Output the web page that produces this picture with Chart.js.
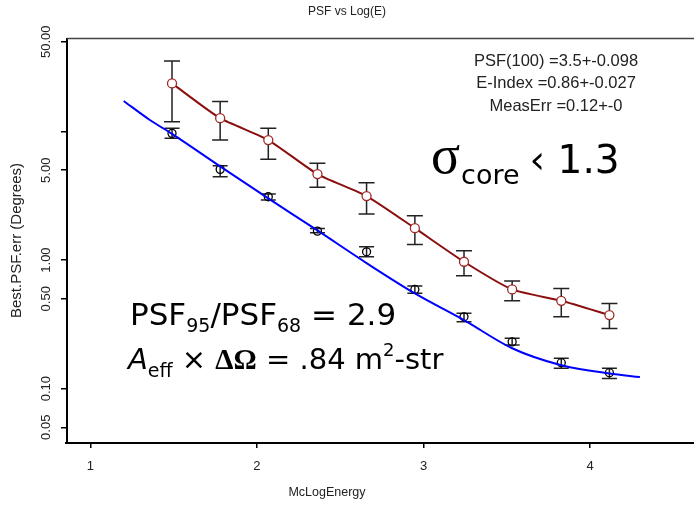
<!DOCTYPE html>
<html><head><meta charset="utf-8">
<script src="https://cdn.jsdelivr.net/npm/chart.js@4/dist/chart.umd.min.js"></script>
<style>html,body{margin:0;padding:0;background:#fff;overflow:hidden}#wrap{width:694px;height:505px}</style>
</head><body><div id="wrap"><canvas id="c" width="694" height="505"></canvas></div>
<script>
// ---- data ----
const energyX  = [1.49, 1.779, 2.068, 2.363, 2.658, 2.948, 3.243, 3.532, 3.827, 4.116];
const psf95    = [23.7, 12.7, 8.59, 4.67, 3.15, 1.77, 0.97, 0.591, 0.482, 0.373];
const psf95Lo  = [11.9, 8.59, 6.08, 3.68, 2.28, 1.32, 0.755, 0.482, 0.362, 0.294];
const psf95Hi  = [35.4, 17.1, 10.6, 5.66, 4.0, 2.21, 1.18, 0.687, 0.602, 0.46];
const psf68    = [9.68, 5.08, 3.11, 1.68, 1.16, 0.591, 0.362, 0.231, 0.159, 0.133];
const psf68Lo  = [8.85, 4.45, 2.93, 1.63, 1.06, 0.551, 0.331, 0.218, 0.144, 0.12];
const psf68Hi  = [10.6, 5.42, 3.26, 1.76, 1.27, 0.628, 0.385, 0.246, 0.172, 0.144];
const fitX     = [1.2, 1.357, 1.49, 1.779, 2.068, 2.363, 2.658, 2.948, 3.243, 3.532, 3.827, 4.116, 4.299];
const fitY     = [17.3, 12.3, 9.6, 5.36, 3.02, 1.70, 0.947, 0.55, 0.341, 0.206, 0.152, 0.131, 0.123];
const xTickValues = [1, 2, 3, 4];
const yTickValues = [0.05, 0.1, 0.5, 1, 5, 10, 50];
const yTickLabels = ["0.05", "0.10", "0.50", "1.00", "5.00", "", "50.00"];
const chartTitle = "PSF vs Log(E)";
const xTitle = "McLogEnergy";
const yTitle = "Best.PSF.err (Degrees)";
const statLines = ["PSF(100) =3.5+-0.098", "E-Index =0.86+-0.027", "MeasErr =0.12+-0"];

const AX = '"Liberation Sans", Arial, sans-serif';
const BIG = '"DejaVu Sans", sans-serif';

function runs(ctx, x, y, parts) {
  for (const p of parts) {
    ctx.font = p.f;
    ctx.fillText(p.t, x, y + (p.dy || 0));
    x += ctx.measureText(p.t).width + (p.gap || 0);
  }
}

const errPlugin = {
  id: 'errbars',
  beforeDatasetsDraw(chart) {
    const {ctx, scales: {x, y}} = chart;
    ctx.save();
    ctx.strokeStyle = '#222';
    ctx.lineWidth = 1.5;
    const draw = (xs, lo, hi, cap) => {
      for (let i = 0; i < xs.length; i++) {
        const px = x.getPixelForValue(xs[i]);
        const a = y.getPixelForValue(lo[i]), b = y.getPixelForValue(hi[i]);
        ctx.beginPath();
        ctx.moveTo(px, a); ctx.lineTo(px, b);
        ctx.moveTo(px - cap, a); ctx.lineTo(px + cap, a);
        ctx.moveTo(px - cap, b); ctx.lineTo(px + cap, b);
        ctx.stroke();
      }
    };
    draw(energyX, psf95Lo, psf95Hi, 8);
    draw(energyX, psf68Lo, psf68Hi, 7.5);
    ctx.restore();
  },
  afterDraw(chart) {
    const {ctx, chartArea: ca, scales: {y}} = chart;
    ctx.save();
    // top frame line and bottom axis line running to the cropped edge
    ctx.strokeStyle = '#444'; ctx.lineWidth = 1.5;
    ctx.beginPath(); ctx.moveTo(ca.left, ca.top - 0.5); ctx.lineTo(694, ca.top - 0.5); ctx.stroke();
    ctx.strokeStyle = '#000'; ctx.lineWidth = 2;
    ctx.beginPath(); ctx.moveTo(ca.left - 2, ca.bottom + 1); ctx.lineTo(694, ca.bottom + 1); ctx.stroke();
    // title
    ctx.fillStyle = '#222';
    ctx.textAlign = 'center'; ctx.textBaseline = 'middle';
    ctx.font = '12px ' + AX;
    ctx.fillText(chartTitle, 347, 12);
    // y tick labels (rotated)
    ctx.font = '13px ' + AX;
    for (let i = 0; i < yTickValues.length; i++) {
      if (!yTickLabels[i]) continue;
      const py = y.getPixelForValue(yTickValues[i]);
      ctx.save(); ctx.translate(46, py); ctx.rotate(-Math.PI / 2);
      ctx.fillText(yTickLabels[i], 0, 0); ctx.restore();
    }
    // y title
    ctx.font = '15px ' + AX;
    ctx.save(); ctx.translate(17, (ca.top + ca.bottom) / 2); ctx.rotate(-Math.PI / 2);
    ctx.fillText(yTitle, 0, 0); ctx.restore();
    // x title
    ctx.font = '12.5px ' + AX;
    ctx.fillText(xTitle, 327, 493);
    // stats
    ctx.font = '16.5px ' + AX;
    ctx.fillText(statLines[0], 556, 61);
    ctx.fillText(statLines[1], 556, 83);
    ctx.fillText(statLines[2], 556, 106);
    // big annotations
    ctx.fillStyle = '#000';
    ctx.textAlign = 'left'; ctx.textBaseline = 'alphabetic';
    runs(ctx, 431, 173, [
      {t: 'σ', f: '54px "Liberation Serif", serif', gap: 1},
      {t: 'core', f: '27px ' + BIG, dy: 11, gap: 10},
      {t: '‹ 1.3', f: '39px ' + BIG}
    ]);
    runs(ctx, 130, 325, [
      {t: 'PSF', f: '31px ' + BIG},
      {t: '95', f: '19px ' + BIG, dy: 7},
      {t: '/PSF', f: '31px ' + BIG},
      {t: '68', f: '19px ' + BIG, dy: 7},
      {t: ' = 2.9', f: '31px ' + BIG}
    ]);
    runs(ctx, 128, 369, [
      {t: 'A', f: 'italic 29px ' + BIG},
      {t: 'eff', f: '19px ' + BIG, dy: 8},
      {t: ' × ', f: '29px ' + BIG},
      {t: 'ΔΩ', f: 'bold 29px "Liberation Serif", serif'},
      {t: ' = .84 m', f: '29px ' + BIG},
      {t: '2', f: '18px ' + BIG, dy: -13},
      {t: '-str', f: '29px ' + BIG}
    ]);
    ctx.restore();
  }
};

new Chart(document.getElementById('c').getContext('2d'), {
  type: 'line',
  data: {
    datasets: [
      { label: 'fit68', data: fitX.map((v, i) => ({x: v, y: fitY[i]})),
        borderColor: '#0000ff', borderWidth: 2, pointRadius: 0, cubicInterpolationMode: 'monotone', order: 0 },
      { label: 'psf95', data: energyX.map((v, i) => ({x: v, y: psf95[i]})),
        borderColor: '#8b0f0f', borderWidth: 2, pointRadius: 4.5, pointBorderWidth: 1.3,
        pointBackgroundColor: '#fff', pointBorderColor: '#a02828', tension: 0.2, order: 1 },
      { label: 'psf68', data: energyX.map((v, i) => ({x: v, y: psf68[i]})),
        showLine: false, pointRadius: 4, pointBorderWidth: 1.3,
        pointBackgroundColor: 'rgba(255,255,255,0)', pointBorderColor: '#000', order: 2 }
    ]
  },
  options: {
    responsive: false, animation: false,
    layout: { padding: { top: 39, right: 0, left: 0, bottom: 0 } },
    plugins: { legend: { display: false }, tooltip: { enabled: false }, title: { display: false } },
    scales: {
      x: {
        type: 'linear', min: 0.8595, max: 4.589,
        afterBuildTicks: s => { s.ticks = xTickValues.map(v => ({value: v})); },
        afterFit: s => { s.height = 63; },
        grid: { drawOnChartArea: false, drawTicks: true, tickLength: 6, color: '#000', lineWidth: 1.5 },
        border: { display: false },
        ticks: { color: '#222', font: { family: AX, size: 13 }, padding: 11, maxRotation: 0, callback: v => String(v) }
      },
      y: {
        type: 'logarithmic', min: 0.0384, max: 52.5,
        afterBuildTicks: s => { s.ticks = yTickValues.map(v => ({value: v})); },
        afterFit: s => { s.width = 67; },
        grid: { drawOnChartArea: false, drawTicks: true, tickLength: 6, color: '#000', lineWidth: 1.5 },
        border: { display: true, color: '#000', width: 2 },
        ticks: { display: false }
      }
    }
  },
  plugins: [errPlugin]
});
</script></body></html>
